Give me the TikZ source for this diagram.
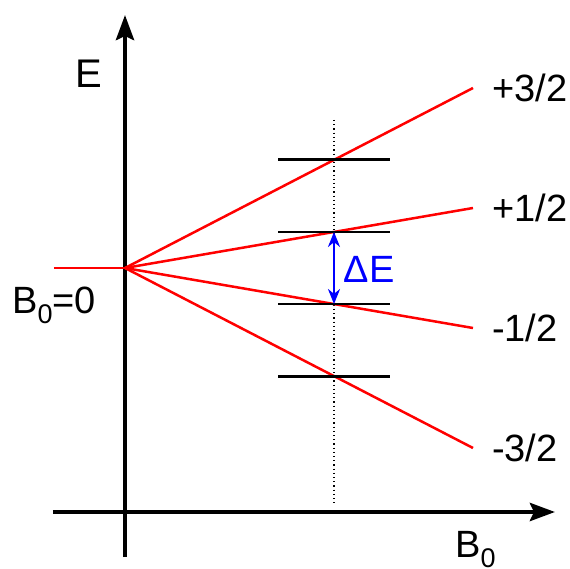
\documentclass[tikz,border=0pt]{standalone}
\usepackage{fontspec}
\setmainfont{Liberation Sans}
\usetikzlibrary{arrows.meta,calc}

\newcommand{\lowsub}[1]{\raisebox{-10pt}{\fontsize{27}{27}\selectfont #1}}

\begin{document}
\begin{tikzpicture}[
    x=1pt, y=1pt,
    axis/.style={line width=4.5pt, -{Stealth[length=25pt, width=18pt, inset=4pt]}},
    field/.style={red, line width=2.5pt},
    level/.style={black, line width=2.8pt},
    probeline/.style={dash pattern=on 1.2pt off 3pt, line width=1.2pt},
    gap/.style={blue, line width=2.6pt, {Stealth[length=15pt, width=12pt]}-{Stealth[length=15pt, width=12pt]}},
    biglabel/.style={font=\fontsize{38}{42}\selectfont, inner sep=0pt},
]

\useasboundingbox (-125,-56) rectangle (445,512);

\def\xend{348}  \def\xprobe{209}
\def\yzero{244}

% Axes
\coordinate (ybot) at (0,-45);
\coordinate (ytop) at (0,497);
\coordinate (xlft) at (-72,0);
\coordinate (xrgt) at (430,0);
\draw[axis] (ybot) -- (ytop);
\draw[axis] (xlft) -- (xrgt);
\node[biglabel, font=\fontsize{40}{44}\selectfont] (elab) at (-36.5,438.5) {E};
\node[biglabel, anchor=base west] (blab) at (330,-45) {B\lowsub{0}};

% Zero field level
\coordinate (o) at (0,\yzero);
\coordinate (ostart) at (-71,\yzero);
\draw[field] (ostart) -- (o);
\node[biglabel, anchor=base west] (zlab) at (-113,198) {B\lowsub{0}=0};

% Probe field
\coordinate (ptop) at (\xprobe,392);
\coordinate (pbot) at (\xprobe,7);
\draw[probeline] (ptop) -- (pbot);

% Zeeman levels
\foreach \name/\dy/\txt in {a/180/+3\slash 2, b/60/+1\slash 2, c/-60/-1\slash 2, d/-180/-3\slash 2} {
    \coordinate (e\name) at (\xend,\yzero+\dy);
    \draw[field] (o) -- (e\name);
    \node[biglabel, anchor=west] (l\name) at (\xend+19,\yzero+\dy) {\txt};
    \coordinate (m\name) at ($(o)!0.6006!(e\name)$);
    \draw[level] ([xshift=-56pt]m\name) -- ([xshift=56pt]m\name);
}

% Energy gap
\draw[gap] (mb) -- (mc);
\node[biglabel, blue] (dlab) at (244,243) {ΔE};

\end{tikzpicture}
\end{document}
